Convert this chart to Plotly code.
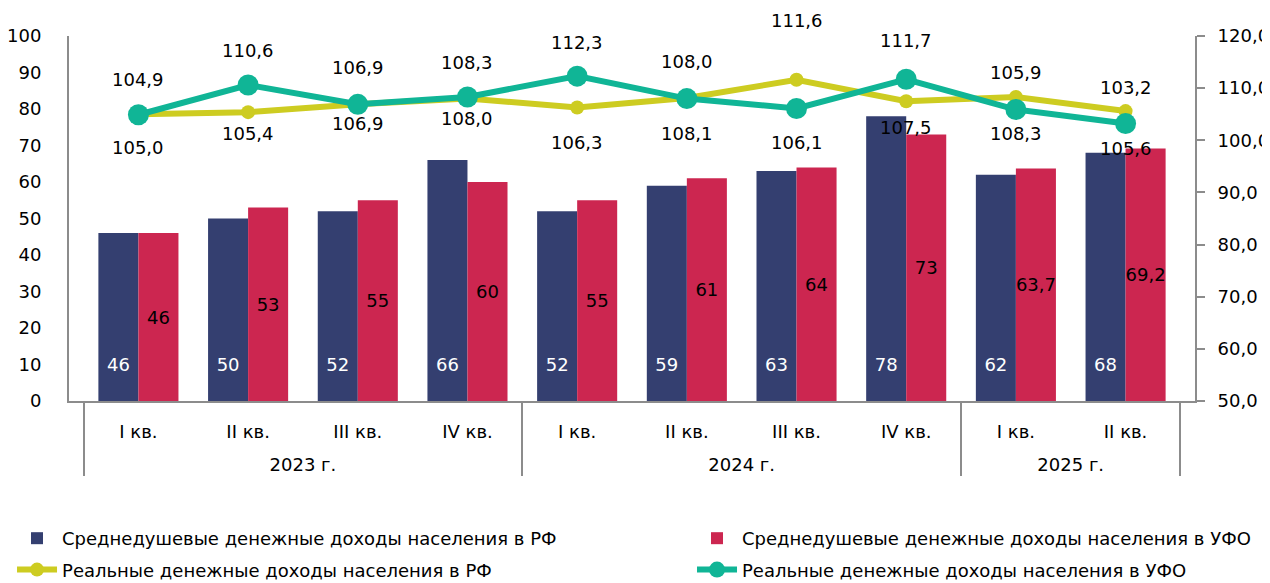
import plotly.graph_objects as go

years = ["2023 г."] * 4 + ["2024 г."] * 4 + ["2025 г."] * 2
quarters = ["I кв.", "II кв.", "III кв.", "IV кв.", "I кв.", "II кв.", "III кв.", "IV кв.", "I кв.", "II кв."]

income_rf = [46, 50, 52, 66, 52, 59, 63, 78, 62, 68]
income_ufo = [46, 53, 55, 60, 55, 61, 64, 73, 63.7, 69.2]
real_rf = [105.0, 105.4, 106.9, 108.0, 106.3, 108.1, 111.6, 107.5, 108.3, 105.6]
real_ufo = [104.9, 110.6, 106.9, 108.3, 112.3, 108.0, 106.1, 111.7, 105.9, 103.2]

names = [
    "Среднедушевые денежные доходы населения в РФ",
    "Среднедушевые денежные доходы населения в УФО",
    "Реальные денежные доходы населения в РФ",
    "Реальные денежные доходы населения в УФО",
]

# label offsets below the marker, in pixels (negative = above)
down_rf = [33, 21, 19, 20, 35, 35, -59, 26, 36, 37]
down_ufo = [-35, -35, -37, -35, -34, -37, 34, -39, -37, -36]

C_NAVY = "#343F70"
C_RED = "#CC2650"
C_YEL = "#CDCC21"
C_TEAL = "#10B596"
C_AX = "#8C8C8C"
FONT = "DejaVu Sans"
FS = 18


def fmt(v):
    s = f"{v:.1f}".replace(".", ",")
    return s[:-2] if s.endswith(",0") else s


x = [years, [q + "<br> " for q in quarters]]

fig = go.Figure()
fig.add_trace(go.Bar(
    x=x, y=income_rf, name=names[0], marker=dict(color=C_NAVY, line=dict(width=0)),
    text=[fmt(v) + "<br> " for v in income_rf], textposition="inside", insidetextanchor="start",
    textangle=0, constraintext="none", textfont=dict(color="white", size=FS, family=FONT),
    legend="legend",
))
fig.add_trace(go.Bar(
    x=x, y=income_ufo, name=names[1], marker=dict(color=C_RED, line=dict(width=0)),
    text=[fmt(v) for v in income_ufo], textposition="inside", insidetextanchor="middle",
    textangle=0, constraintext="none", textfont=dict(color="black", size=FS, family=FONT),
    legend="legend2",
))
fig.add_trace(go.Scatter(
    x=x, y=real_rf, name=names[2], yaxis="y2", mode="lines+markers",
    line=dict(color=C_YEL, width=6), marker=dict(color=C_YEL, size=14),
    legend="legend3",
))
fig.add_trace(go.Scatter(
    x=x, y=real_ufo, name=names[3], yaxis="y2", mode="lines+markers",
    line=dict(color=C_TEAL, width=6), marker=dict(color=C_TEAL, size=21),
    legend="legend4",
))

ann = []
for i, v in enumerate(real_rf):
    ann.append(dict(x=i, y=v, xref="x", yref="y2", text=f"{v:.1f}".replace(".", ","),
                    showarrow=False, yshift=-down_rf[i], font=dict(size=FS, color="black", family=FONT)))
for i, v in enumerate(real_ufo):
    ann.append(dict(x=i, y=v, xref="x", yref="y2", text=f"{v:.1f}".replace(".", ","),
                    showarrow=False, yshift=-down_ufo[i], font=dict(size=FS, color="black", family=FONT)))

leg_common = dict(orientation="h", xanchor="left", yanchor="top",
                  font=dict(size=FS, family=FONT), itemwidth=40, bgcolor="rgba(0,0,0,0)")

# The page body adds an 8px margin, so the figure is 16px smaller than the window
fig.update_layout(
    width=1262, height=575,
    margin=dict(l=61, r=75, t=28, b=182, autoexpand=False),
    paper_bgcolor="white", plot_bgcolor="white",
    font=dict(family=FONT, size=FS, color="black"),
    barmode="group", bargap=0.27, bargroupgap=0,
    separators=", ",
    showlegend=True,
    legend=dict(x=-0.0506, y=-0.326, **leg_common),
    legend2=dict(x=0.5533, y=-0.326, **leg_common),
    legend3=dict(x=-0.0506, y=-0.412, **leg_common),
    legend4=dict(x=0.5533, y=-0.412, **leg_common),
    xaxis=dict(type="multicategory", showline=True, linecolor=C_AX, linewidth=2,
               showdividers=True, dividercolor=C_AX, dividerwidth=2,
               ticks="", tickfont=dict(size=FS, family=FONT), showgrid=False,
               ticklabelstandoff=13),
    yaxis=dict(range=[0, 100], dtick=10, showline=True, linecolor=C_AX, linewidth=2,
               showgrid=False, zeroline=False, ticks="", ticklabelstandoff=22,
               tickfont=dict(size=FS, family=FONT)),
    yaxis2=dict(range=[50, 120], dtick=10, overlaying="y", side="right", showline=True,
                linecolor=C_AX, linewidth=2, showgrid=False, zeroline=False,
                ticks="outside", ticklen=8, tickcolor=C_AX, tickwidth=2,
                tickformat=".1f", ticklabelstandoff=9, tickfont=dict(size=FS, family=FONT)),
    annotations=ann,
)

fig.write_html("out.html")
